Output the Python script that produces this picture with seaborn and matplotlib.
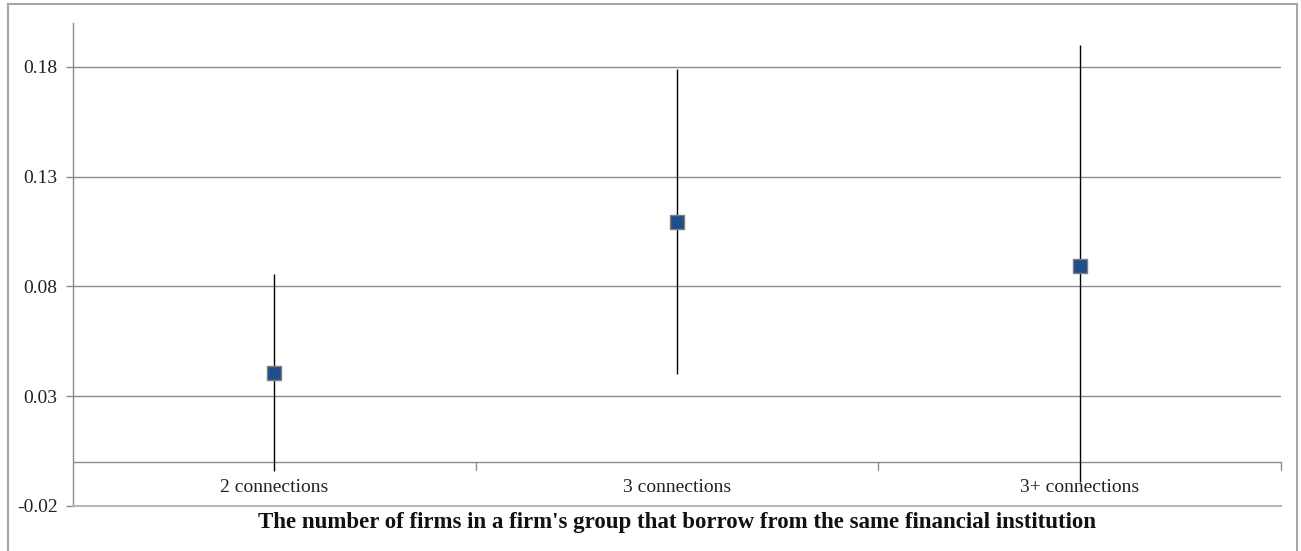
import matplotlib
matplotlib.use("Agg")
import matplotlib.pyplot as plt
import seaborn as sns
import pandas as pd
from matplotlib.patches import Rectangle

categories = ["2 connections", "3 connections", "3+ connections"]
estimates = [0.0405, 0.1095, 0.0895]
ci_low = [-0.004, 0.040, -0.009]
ci_high = [0.0855, 0.179, 0.190]
yticks = [-0.02, 0.03, 0.08, 0.13, 0.18]
xlabel = "The number of firms in a firm's group that borrow from the same financial institution"

sns.set_theme(style="white")
plt.rcParams['font.family'] = ['Liberation Serif', 'DejaVu Serif']

df = pd.DataFrame({"cat": categories, "est": estimates, "lo": ci_low, "hi": ci_high})
df["x"] = range(len(df))

fig = plt.figure(figsize=(13.01, 5.51), dpi=100)
ax = fig.add_axes([73/1301, 1 - 506/551, (1281 - 73)/1301, (506 - 23)/551])

# chart border
fig.patches.append(Rectangle((8/1301, -0.05), (1297 - 8)/1301, 1.05 - 4/551,
                             transform=fig.transFigure, fill=False,
                             edgecolor="#a6a6a6", linewidth=1.5))

grid_c = "#8c8c8c"
for t in yticks[1:]:
    ax.axhline(t, color=grid_c, lw=1.0, zorder=0)

# error bars
ax.vlines(df["x"], df["lo"], df["hi"], color="black", lw=1.0, zorder=2)
sns.scatterplot(data=df, x="x", y="est", marker="s", s=105, color="#1f4e8c",
                edgecolor="#7f7f7f", linewidth=1.0, zorder=3, ax=ax, legend=False)

# category axis at y=0
ax.axhline(0, color=grid_c, lw=1.0, zorder=1)
for b in [0.5, 1.5, 2.5]:
    ax.plot([b, b], [0, -0.0035], color=grid_c, lw=1.0, clip_on=False, zorder=1)
for i, c in enumerate(categories):
    ax.annotate(c, (i, 0), xytext=(0, -12), textcoords="offset points",
                ha="center", va="top", fontsize=14, color="#222222")

ax.set_xlim(-0.5, 2.5)
ax.set_ylim(-0.02, 0.2)
ax.set_yticks(yticks)
ax.set_yticklabels([f"{t:.2f}" for t in yticks], fontsize=14, color="#222222")
ax.set_xticks([])
ax.tick_params(axis="y", which="both", left=True, length=5, color=grid_c, width=1.0, pad=6)

for s in ["top", "right"]:
    ax.spines[s].set_visible(False)
ax.spines["left"].set_color(grid_c)
ax.spines["left"].set_linewidth(1.0)
ax.spines["bottom"].set_color("#b8b8b8")
ax.spines["bottom"].set_linewidth(1.5)

ax.set_xlabel(xlabel, fontsize=16.5, fontweight="bold", color="#111111", labelpad=4)
ax.set_ylabel("")

fig.savefig("out.png", dpi=100, facecolor="white")
